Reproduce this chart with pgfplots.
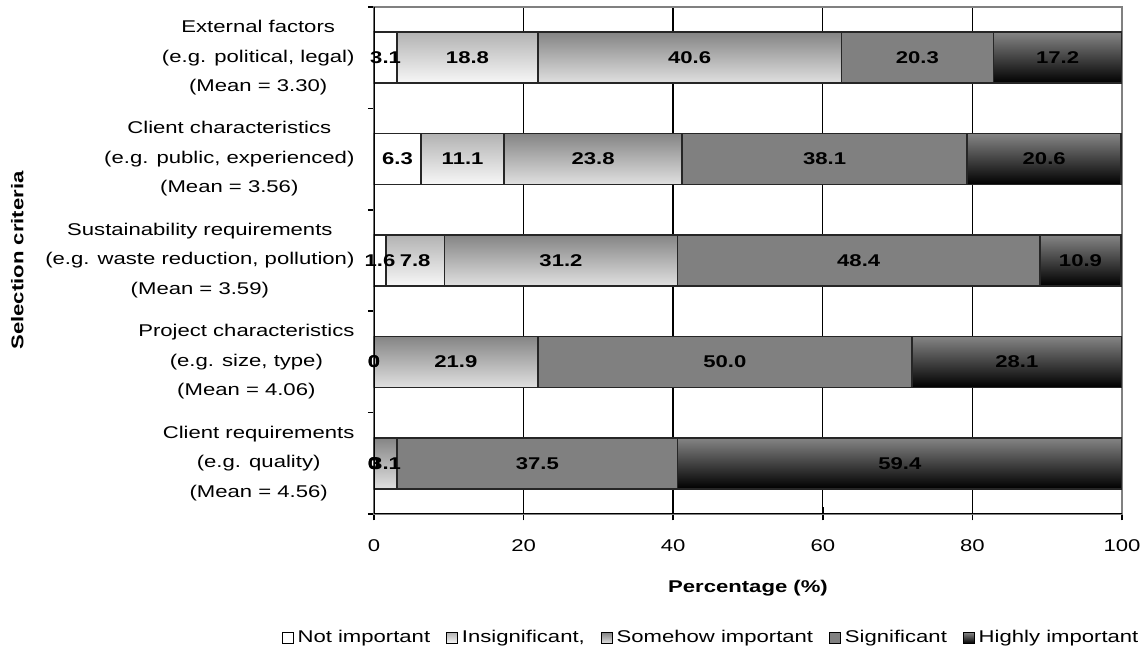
\documentclass[border=0pt]{standalone}
\usepackage{fontspec}
\setmainfont{Liberation Sans}[FakeStretch=1.3]
\usepackage{pgfplots}
\usepackage{pgfplotstable}
\pgfplotsset{compat=1.18}

% shares of respondents (%) per importance level
% n1 = not important ... n5 = highly important
\pgfplotstableread{
y n1  n2   n3   n4   n5
4 3.1 18.8 40.6 20.3 17.2
3 6.3 11.1 23.8 38.1 20.6
2 1.6 7.8  31.2 48.4 10.9
1 0   0    21.9 50.0 28.1
0 0   0    3.1  37.5 59.4
}\ratings

\newcommand\sz{\fontsize{8.5}{10.2}\selectfont}

\pgfplotsset{
  segment/.style={xbar, bar shift=0pt, bar width=25.5pt, draw=black!85,
    line width=0.8pt, forget plot},
  lvlA/.style={fill=white},
  lvlB/.style={top color=black!30, bottom color=black!3},
  lvlC/.style={top color=black!48, bottom color=black!12},
  lvlD/.style={fill=black!50},
  lvlE/.style={top color=black!48, bottom color=black},
  seglabel/.style={draw=none, mark=none, forget plot,
    point meta=explicit symbolic, nodes near coords,
    nodes near coords align={center},
    nodes near coords style={font=\sz\bfseries, text=black, inner sep=0pt}},
}

\begin{document}
\begin{tikzpicture}
\useasboundingbox (-187pt,-71.5pt) rectangle (387pt,257pt);
\begin{axis}[
  at={(0,0)}, anchor=south west,
  scale only axis, width=374pt, height=253.5pt,
  xmin=0, xmax=100, ymin=-0.5, ymax=4.5,
  xtick={0,20,...,100},
  ytick={0,1,2,3,4},
  yticklabels={
    {Client requirements\\(e.g. quality)\\(Mean = 4.56)},
    {Project characteristics\\(e.g. size, type)\\(Mean = 4.06)},
    {Sustainability requirements\\(e.g. waste reduction, pollution)\\(Mean = 3.59)},
    {Client characteristics\\(e.g. public, experienced)\\(Mean = 3.56)},
    {External factors\\(e.g. political, legal)\\(Mean = 3.30)}},
  minor ytick={-0.5,0.5,...,4.5},
  tick align=center,
  major tick length=6.5pt,
  minor tick length=3pt,
  major y tick style={draw=none},
  minor y tick style={xshift=-1.5pt, black, line width=0.8pt},
  major x tick style={black, line width=0.8pt},
  xtick pos=bottom, ytick pos=left,
  /pgf/number format/assume math mode=true,
  tick label style={font=\sz, text=black},
  xticklabel style={yshift=-6pt},
  yticklabel style={font=\fontsize{8.5}{14.75}\selectfont, align=center, xshift=-3pt},
  xmajorgrids,
  major grid style={black, line width=0.7pt},
  axis line style={draw=black!50, line width=0.8pt},
  xlabel={\bfseries Percentage (\%)},
  ylabel={\bfseries Selection criteria},
  label style={font=\sz},
  xlabel style={at={(axis description cs:0.5,-0.146)}, anchor=center},
  ylabel style={at={(axis description cs:-0.477,0.5)}, anchor=center},
  legend columns=-1,
  legend style={draw=none, fill=none, font=\sz,
    at={(axis description cs:0.452,-0.2446)}, anchor=center,
    /tikz/every even column/.append style={column sep=6pt}},
  legend image code/.code={\draw[#1, draw=black, line width=0.5pt]
    (0pt,-2.7pt) rectangle (5.4pt,2.7pt);},
]
% each bar is its own plot so that every segment gets its own shading;
% per row, bars run from the full stack down to the first level,
% each one covering the part of the previous bar to its left
\pgfplotsinvokeforeach{0,1,2,3,4}{
  \addplot[segment, lvlE, restrict y to domain=#1:#1] table[y=y,
    x expr=\thisrow{n1}+\thisrow{n2}+\thisrow{n3}+\thisrow{n4}+\thisrow{n5}] {\ratings};
  \addplot[segment, lvlD, restrict y to domain=#1:#1] table[y=y,
    x expr=\thisrow{n1}+\thisrow{n2}+\thisrow{n3}+\thisrow{n4}] {\ratings};
  \addplot[segment, lvlC, restrict y to domain=#1:#1] table[y=y,
    x expr=\thisrow{n1}+\thisrow{n2}+\thisrow{n3}] {\ratings};
  \addplot[segment, lvlB, restrict y to domain=#1:#1] table[y=y,
    x expr=\thisrow{n1}+\thisrow{n2}] {\ratings};
  \addplot[segment, lvlA, restrict y to domain=#1:#1] table[y=y, x=n1] {\ratings};
}

% value labels in the middle of each segment
\addplot[seglabel] table[y=y, meta=n1,
  x expr=\thisrow{n1}/2] {\ratings};
\addplot[seglabel] table[y=y, meta=n2,
  x expr=\thisrow{n1}+\thisrow{n2}/2] {\ratings};
\addplot[seglabel] table[y=y, meta=n3,
  x expr=\thisrow{n1}+\thisrow{n2}+\thisrow{n3}/2] {\ratings};
\addplot[seglabel] table[y=y, meta=n4,
  x expr=\thisrow{n1}+\thisrow{n2}+\thisrow{n3}+\thisrow{n4}/2] {\ratings};
\addplot[seglabel] table[y=y, meta=n5,
  x expr=\thisrow{n1}+\thisrow{n2}+\thisrow{n3}+\thisrow{n4}+\thisrow{n5}/2] {\ratings};

% left and bottom axis lines in black
\draw[black, line width=0.9pt] (rel axis cs:0,1) -- (rel axis cs:0,0) -- (rel axis cs:1,0);

\addlegendimage{lvlA}\addlegendentry{Not important}
\addlegendimage{lvlB}\addlegendentry{Insignificant,}
\addlegendimage{lvlC}\addlegendentry{Somehow important}
\addlegendimage{lvlD}\addlegendentry{Significant}
\addlegendimage{lvlE}\addlegendentry{Highly important}
\end{axis}
\end{tikzpicture}
\end{document}
